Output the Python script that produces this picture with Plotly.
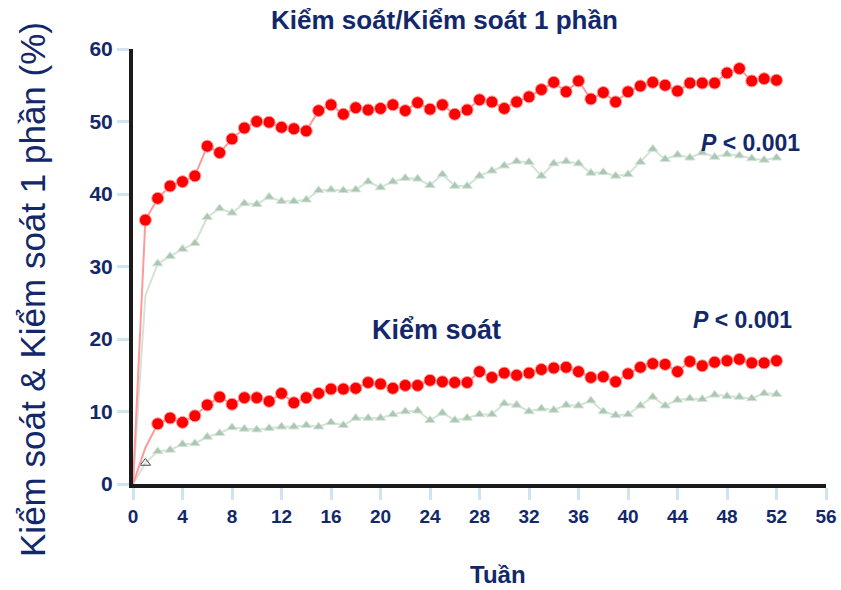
import plotly.graph_objects as go

weeks = list(range(0, 53))

# Kiểm soát/Kiểm soát 1 phần (upper pair)
upper_red = [0, 36.4, 39.4, 41.1, 41.7, 42.5, 46.6, 45.7, 47.6, 49.1, 50.0,
             49.9, 49.2, 49.0, 48.7, 51.5, 52.3, 51.0, 51.9, 51.6, 51.8,
             52.3, 51.5, 52.6, 51.7, 52.3, 51.0, 51.6, 53.0, 52.7, 51.8,
             52.7, 53.4, 54.4, 55.4, 54.1, 55.6, 53.1, 54.0, 52.7, 54.1,
             54.9, 55.4, 55.0, 54.2, 55.3, 55.3, 55.3, 56.7, 57.3, 55.6,
             55.9, 55.7]
upper_green = [0, 26.0, 30.4, 31.4, 32.4, 33.2, 36.8, 38.0, 37.4, 38.7, 38.6,
               39.6, 39.0, 39.0, 39.2, 40.5, 40.6, 40.5, 40.6, 41.7, 40.9,
               41.7, 42.2, 42.1, 41.2, 42.7, 41.1, 41.1, 42.5, 43.2, 43.9,
               44.5, 44.4, 42.5, 44.2, 44.5, 44.2, 42.9, 43.0, 42.5, 42.7,
               44.4, 46.2, 44.8, 45.4, 45.0, 45.7, 45.1, 45.5, 45.3, 44.9,
               44.7, 45.0]

# Kiểm soát (lower pair)
lower_red = [0, 5.0, 8.3, 9.1, 8.5, 9.4, 10.9, 12.0, 11.0, 11.9, 11.9,
             11.4, 12.5, 11.2, 11.9, 12.5, 13.1, 13.1, 13.2, 14.0, 13.8,
             13.2, 13.6, 13.6, 14.3, 14.1, 14.0, 14.0, 15.5, 14.7, 15.3,
             15.0, 15.3, 15.8, 16.0, 16.1, 15.5, 14.7, 14.8, 14.1, 15.2,
             16.1, 16.6, 16.5, 15.5, 16.9, 16.3, 16.8, 17.0, 17.2, 16.7,
             16.7, 17.0]
lower_green = [0, 2.9, 4.5, 4.7, 5.5, 5.6, 6.5, 7.0, 7.8, 7.6, 7.5,
               7.7, 7.9, 7.9, 8.1, 7.9, 8.5, 8.1, 9.1, 9.1, 9.1,
               9.6, 10.0, 10.1, 8.8, 9.8, 8.8, 9.1, 9.6, 9.6, 11.1,
               10.9, 10.0, 10.4, 10.2, 10.9, 10.8, 11.5, 10.0, 9.5, 9.6,
               10.8, 12.0, 10.8, 11.6, 11.8, 11.7, 12.3, 12.1, 12.0, 11.8,
               12.5, 12.4]

x_ticks = list(range(0, 57, 4))
y_ticks = list(range(0, 61, 10))

NAVY = "#13286b"
RED = "#ff0000"
RED_LINE = "#ff9a9a"
GREEN = "#a9c7b1"
GREEN_LINE = "#d3e3d7"
FONT = "Liberation Sans, Arial, sans-serif"

def sizes(n, hidden, s):
    return [0 if i in hidden else s for i in range(n)]

fig = go.Figure()

fig.add_trace(go.Scatter(
    x=weeks, y=upper_green, mode="lines+markers",
    line=dict(color=GREEN_LINE, width=2),
    marker=dict(symbol="triangle-up", color=GREEN, opacity=1,
                size=sizes(len(weeks), {0, 1}, 9)),
    showlegend=False, hoverinfo="x+y"))
fig.add_trace(go.Scatter(
    x=weeks, y=lower_green, mode="lines+markers",
    line=dict(color=GREEN_LINE, width=2),
    marker=dict(symbol=["triangle-up-open" if i == 1 else "triangle-up" for i in weeks],
                color=["#444444" if i == 1 else GREEN for i in weeks], opacity=1,
                size=sizes(len(weeks), {0}, 9)),
    showlegend=False, hoverinfo="x+y"))
fig.add_trace(go.Scatter(
    x=weeks, y=upper_red, mode="lines+markers",
    line=dict(color=RED_LINE, width=2),
    marker=dict(symbol="circle", color=RED, opacity=1,
                size=sizes(len(weeks), {0}, 12)),
    showlegend=False, hoverinfo="x+y"))
fig.add_trace(go.Scatter(
    x=weeks, y=lower_red, mode="lines+markers",
    line=dict(color=RED_LINE, width=2),
    marker=dict(symbol="circle", color=RED, opacity=1,
                size=sizes(len(weeks), {0, 1}, 12)),
    showlegend=False, hoverinfo="x+y"))

fig.update_layout(
    width=841, height=590,
    margin=dict(l=133, r=15, t=49, b=106, autoexpand=False),
    paper_bgcolor="white", plot_bgcolor="white",
    font=dict(family=FONT, color=NAVY),
)

fig.update_xaxes(
    range=[0, 56], tickmode="array", tickvals=x_ticks,
    ticktext=[f"<b>{v}</b>" for v in x_ticks],
    ticks="outside", ticklen=12, tickwidth=3, tickcolor="#cfe3f3",
    tickfont=dict(size=19, color=NAVY, family=FONT),
    showline=True, linecolor="#1a1a1a", linewidth=4,
    showgrid=False, zeroline=False, automargin=False,
)
fig.update_yaxes(
    range=[0, 60], tickmode="array", tickvals=y_ticks,
    ticktext=[f"<b>{v}</b>" for v in y_ticks],
    ticks="outside", ticklen=12, tickwidth=3, tickcolor="#cfe3f3",
    tickfont=dict(size=21, color=NAVY, family=FONT),
    showline=True, linecolor="#1a1a1a", linewidth=4,
    showgrid=False, zeroline=False, automargin=False,
)

fig.add_annotation(x=0.450, y=1.066, xref="paper", yref="paper",
                   text="<b>Kiểm soát/Kiểm soát 1 phần</b>", showarrow=False,
                   xanchor="center", yanchor="middle", borderpad=0,
                   font=dict(size=26, color=NAVY, family=FONT))
fig.add_annotation(x=0.527, y=-0.2069, xref="paper", yref="paper",
                   text="<b>Tuần</b>", showarrow=False,
                   xanchor="center", yanchor="middle", borderpad=0,
                   font=dict(size=24, color=NAVY, family=FONT))
fig.add_annotation(x=-0.1443, y=0.446, xref="paper", yref="paper",
                   text="Kiểm soát & Kiểm soát 1 phần (%)", showarrow=False,
                   textangle=-90, xanchor="center", yanchor="middle",
                   font=dict(size=35, color=NAVY, family=FONT))

fig.add_annotation(x=54.1, y=47.0, xref="x", yref="y", text="<b><i>P</i> &lt; 0.001</b>",
                   showarrow=False, xanchor="right", yanchor="middle",
                   font=dict(size=23, color=NAVY, family=FONT))
fig.add_annotation(x=53.4, y=22.6, xref="x", yref="y", text="<b><i>P</i> &lt; 0.001</b>",
                   showarrow=False, xanchor="right", yanchor="middle",
                   font=dict(size=23, color=NAVY, family=FONT))
fig.add_annotation(x=24.5, y=21.2, xref="x", yref="y", text="<b>Kiểm soát</b>",
                   showarrow=False, xanchor="center", yanchor="middle",
                   font=dict(size=27, color=NAVY, family=FONT))

fig.write_html("out.html", config={"displayModeBar": False},
               post_script="document.body.style.margin='0';document.body.style.overflow='hidden';")
